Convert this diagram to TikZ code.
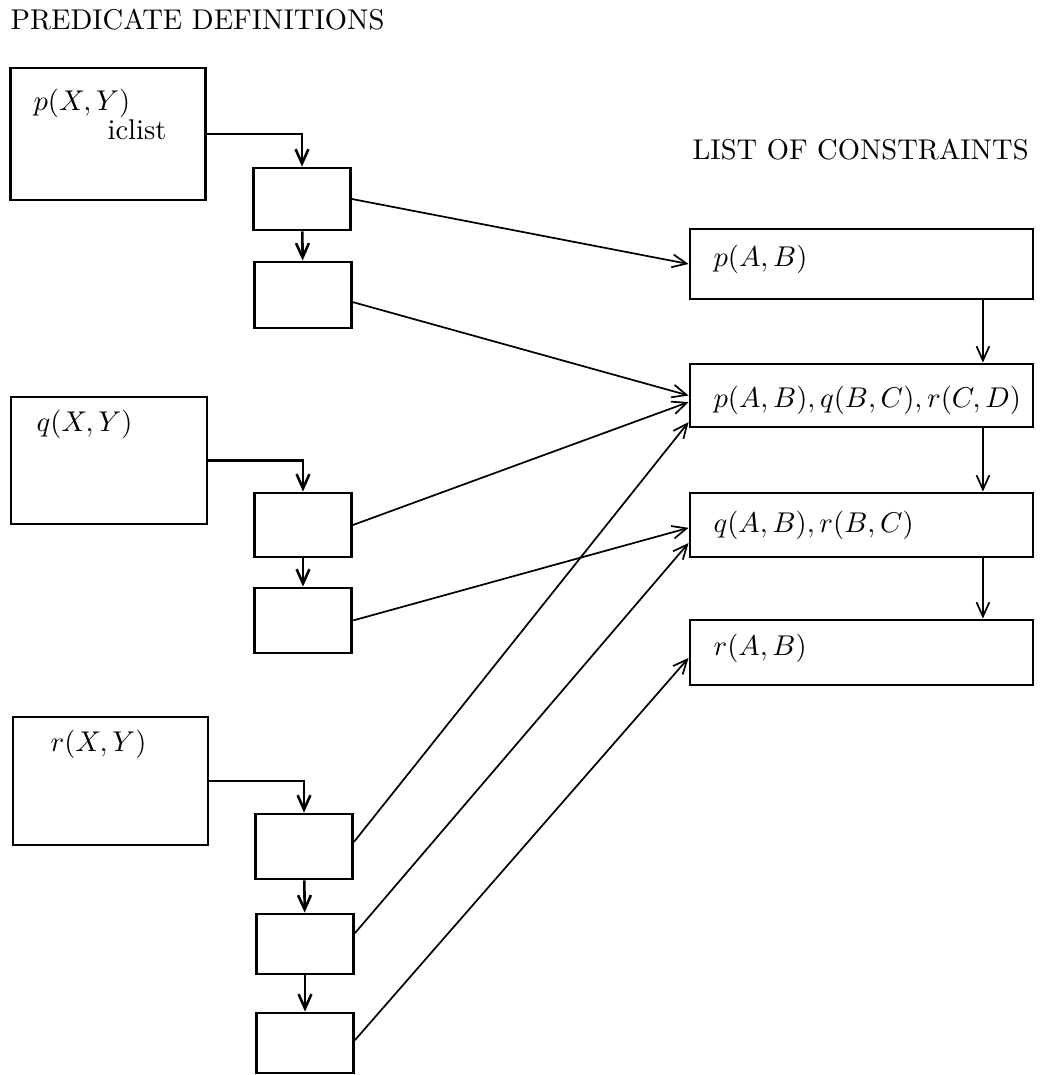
\documentclass[tikz,border=0pt]{standalone}
\usetikzlibrary{arrows.meta}

\begin{document}
\begin{tikzpicture}[x=0.35pt,y=-0.35pt,
  box/.style 2 args={draw,line width=1pt,inner sep=0pt,
              minimum width=#1*0.35pt,minimum height=#2*0.35pt},
  txt/.style={anchor=base west,inner sep=0pt},
  ar/.style={-{Straight Barb[length=5pt,width=4.5pt]},line width=0.9pt},
  ln/.style={-{Straight Barb[length=5pt,width=4.5pt]},line width=0.6pt}]
\useasboundingbox (0,0) rectangle (1040,1075);
% titles
\node[txt] (t1) at (10,30) {PREDICATE DEFINITIONS};
\node[txt] (t2) at (692,160) {LIST OF CONSTRAINTS};
% predicate boxes
\node[box={195}{132}] (P) at (108,134) {};
\node[box={196}{127}] (Q) at (109,460.5) {};
\node[box={195}{128}] (R) at (110.5,781) {};
\node[txt] (pl) at (33,111) {$p(X,Y)$};
\node[txt] (il) at (107,139) {iclist};
\node[txt] (ql) at (36,431) {$q(X,Y)$};
\node[txt] (rl) at (50,751) {$r(X,Y)$};
% clause boxes
\node[box={97}{62}] (p1) at (302,199) {};
\node[box={97}{66}] (p2) at (303,295) {};
\node[box={97}{64}] (q1) at (303,525) {};
\node[box={97}{65}] (q2) at (303,620.5) {};
\node[box={97}{65}] (r1) at (304,846.5) {};
\node[box={97}{60}] (r2) at (305,944) {};
\node[box={97}{60}] (r3) at (305,1043) {};
% constraint list
\node[box={343}{70}] (c1) at (861.5,264) {};
\node[box={343}{63}] (c2) at (861.5,395.5) {};
\node[box={343}{64}] (c3) at (861.5,525) {};
\node[box={343}{65}] (c4) at (861.5,652.5) {};
\node[txt] (c1l) at (713,266) {$p(A,B)$};
\node[txt] (c2l) at (713,407) {$p(A,B),q(B,C),r(C,D)$};
\node[txt] (c3l) at (713,532) {$q(A,B),r(B,C)$};
\node[txt] (c4l) at (713,655) {$r(A,B)$};
% connectors
\draw[ar] (P.east) -| (p1.north);
\draw[ar] (Q.east) -| (q1.north);
\draw[ar] (R.east) -| (r1.north);
\foreach \a/\b in {p1/p2,q1/q2,r1/r2,r2/r3}
  \draw[ar] (\a) -- (\b);
\foreach \a/\b in {c1/c2,c2/c3,c3/c4}
  \draw[ln] ([xshift=42.5pt]\a.south) -- ([xshift=42.5pt]\b.north);
\draw[ln] (p1.east) -- (c1.west);
\draw[ln] ([yshift=-2.5pt]p2.east) -- (c2.west);
\draw[ln] (q1.east) -- ([yshift=-2.3pt]c2.west);
\draw[ln] ([yshift=1.6pt]r1.east) -- ([yshift=-9.3pt]c2.west);
\draw[ln] (q2.east) -- ([yshift=-1pt]c3.west);
\draw[ln] ([yshift=3.8pt]r2.east) -- ([yshift=-6.3pt]c3.west);
\draw[ln] ([yshift=1pt]r3.east) -- ([yshift=-1.9pt]c4.west);
\end{tikzpicture}
\end{document}
